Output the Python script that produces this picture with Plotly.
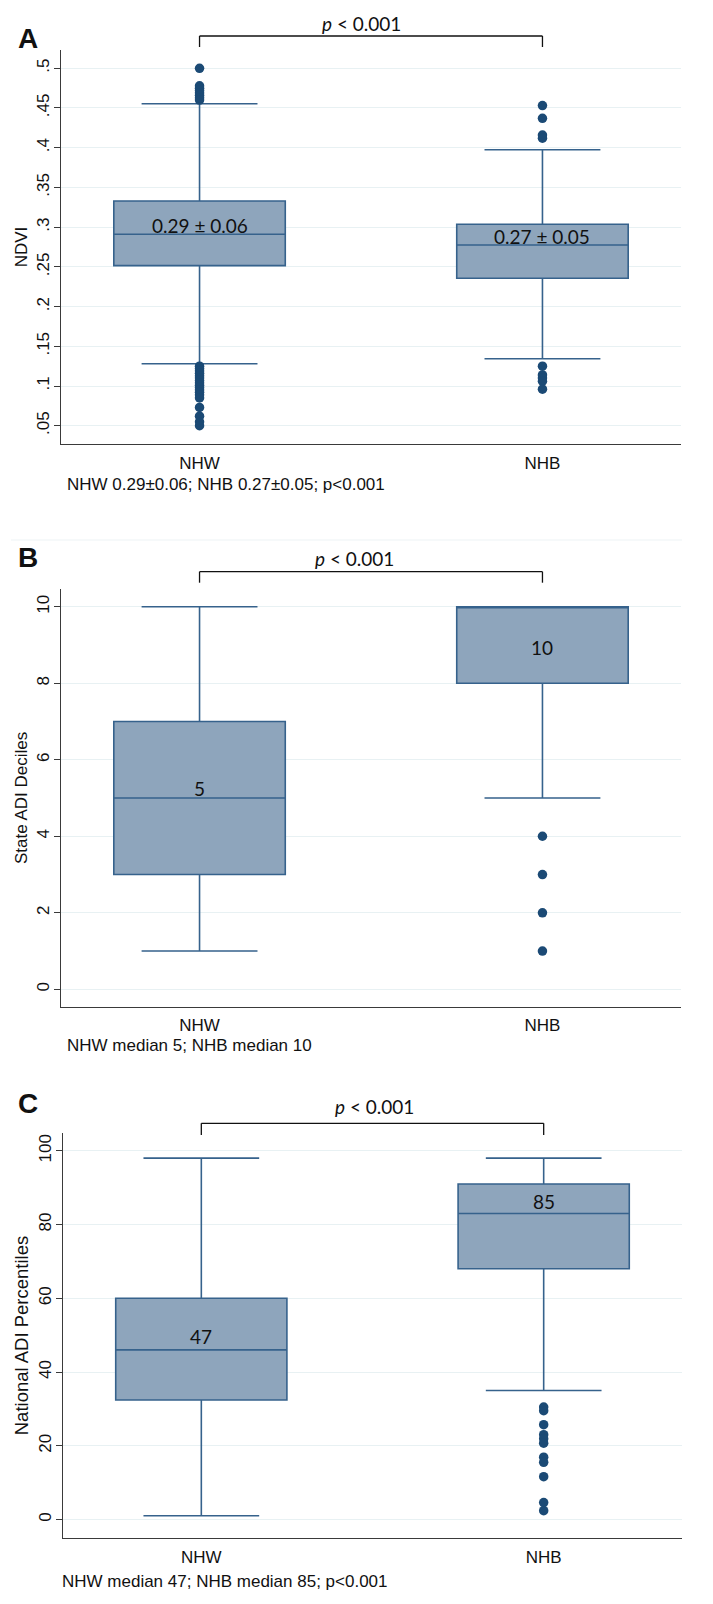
import plotly.graph_objects as go

# ---------------- data ----------------
groups = ["NHW", "NHB"]

# Panel A: NDVI
ndvi_q1 = [0.2515, 0.2356]
ndvi_median = [0.2910, 0.2775]
ndvi_q3 = [0.3329, 0.3036]
ndvi_lower = [0.1281, 0.1343]
ndvi_upper = [0.4554, 0.3975]
ndvi_out_nhw = [0.500, 0.478, 0.475, 0.472, 0.469, 0.466, 0.463, 0.460,
                0.125, 0.122, 0.119, 0.116, 0.113, 0.110, 0.107, 0.104,
                0.101, 0.098, 0.095, 0.092, 0.089, 0.085, 0.073, 0.062,
                0.055, 0.050]
ndvi_out_nhb = [0.453, 0.437, 0.416, 0.412, 0.125, 0.114, 0.110, 0.106, 0.096]
ndvi_labels = ["0.29 ± 0.06", "0.27 ± 0.05"]
ndvi_ticks = [0.05, 0.1, 0.15, 0.2, 0.25, 0.3, 0.35, 0.4, 0.45, 0.5]
ndvi_ticktext = [".05", ".1", ".15", ".2", ".25", ".3", ".35", ".4", ".45", ".5"]
ndvi_note = "NHW 0.29±0.06; NHB 0.27±0.05; p<0.001"

# Panel B: State ADI deciles
state_q1 = [3, 8]
state_median = [5, 10]
state_q3 = [7, 10]
state_lower = [1, 5]
state_upper = [10, 10]
state_out_nhw = []
state_out_nhb = [4, 3, 2, 1]
state_labels = ["5", "10"]
state_ticks = [0, 2, 4, 6, 8, 10]
state_note = "NHW median 5; NHB median 10"

# Panel C: National ADI percentiles
nat_q1 = [32.4, 68]
nat_median = [46, 83]
nat_q3 = [60, 91]
nat_lower = [1, 35]
nat_upper = [98, 98]
nat_out_nhw = []
nat_out_nhb = [30.5, 29.5, 25.7, 23, 21.9, 20.7, 16.9, 15.5, 11.6, 4.6, 2.4]
nat_labels = ["47", "85"]
nat_ticks = [0, 20, 40, 60, 80, 100]
nat_note = "NHW median 47; NHB median 85; p<0.001"

p_text = "<i>p</i> < 0.001"
panel_letters = ["A", "B", "C"]
y_titles = ["NDVI", "State ADI Deciles", "National ADI Percentiles"]

# ---------------- styling ----------------
W, H = 713, 1604
FILL = "#8EA5BC"
LINE = "#36628C"
DOT = "#1B4A75"
GRID = "#E8F1F3"
AXIS = "#3a3a3a"
SANS = "Liberation Sans, Arial, sans-serif"
CAL = "Lato, Open Sans, sans-serif"


def fx(px):
    return px / W


def fy(py):
    return 1 - py / H


panels = [
    dict(q1=ndvi_q1, med=ndvi_median, q3=ndvi_q3, lo=ndvi_lower, hi=ndvi_upper,
         out=[ndvi_out_nhw, ndvi_out_nhb], labels=ndvi_labels,
         tickvals=ndvi_ticks, ticktext=ndvi_ticktext, note=ndvi_note,
         yrange=[0.027, 0.523], ydom=(50, 444), xdom=(61, 681),
         label_shift=[9, 9], bracket=(36, 47), ptext=(361, 24),
         letter=(28, 38), notey=485, notex=65, tsize=17),
    dict(q1=state_q1, med=state_median, q3=state_q3, lo=state_lower, hi=state_upper,
         out=[state_out_nhw, state_out_nhb], labels=state_labels,
         tickvals=state_ticks, ticktext=[str(v) for v in state_ticks], note=state_note,
         yrange=[-0.455, 10.463], ydom=(589, 1006.7), xdom=(61, 681),
         label_shift=[9.5, -41], bracket=(571.7, 582.7), ptext=(354, 558),
         letter=(28, 557.5), notey=1045, notex=65, tsize=17),
    dict(q1=nat_q1, med=nat_median, q3=nat_q3, lo=nat_lower, hi=nat_upper,
         out=[nat_out_nhw, nat_out_nhb], labels=nat_labels,
         tickvals=nat_ticks, ticktext=[str(v) for v in nat_ticks], note=nat_note,
         yrange=[-5.1, 104.9], ydom=(1132.7, 1538.3), xdom=(63, 682),
         label_shift=[13.5, 11.5], bracket=(1123.3, 1135), ptext=(375, 1106.5),
         letter=(27.5, 1103.5), notey=1581.7, notex=60, tsize=18.5),
]

fig = go.Figure()
annotations = []
shapes = []
XR = [-0.404, 1.404]

for i, p in enumerate(panels):
    n = "" if i == 0 else str(i + 1)
    xa, ya = "x" + n, "y" + n
    fig.add_trace(go.Box(
        x=groups, q1=p["q1"], median=p["med"], q3=p["q3"],
        lowerfence=p["lo"], upperfence=p["hi"],
        xaxis=xa, yaxis=ya, boxpoints=False, width=0.5, whiskerwidth=0.676,
        fillcolor=FILL, line=dict(color=LINE, width=1.6),
        showlegend=False, hoverinfo="skip"))
    ox, oy = [], []
    for g, vals in zip(groups, p["out"]):
        ox += [g] * len(vals)
        oy += vals
    fig.add_trace(go.Scatter(
        x=ox, y=oy, mode="markers", xaxis=xa, yaxis=ya,
        marker=dict(color=DOT, size=9.5, line=dict(width=0)),
        showlegend=False, hoverinfo="skip"))

    layout_x = dict(
        domain=[fx(p["xdom"][0]), fx(p["xdom"][1])], range=XR,
        type="category", categoryorder="array", categoryarray=groups,
        showline=True, linecolor=AXIS, linewidth=1.3, showgrid=False,
        ticks="outside", ticklen=3, tickcolor="rgba(0,0,0,0)",
        tickfont=dict(family=SANS, size=17, color="#111"),
        anchor=ya, fixedrange=True, zeroline=False)
    layout_y = dict(
        domain=[fy(p["ydom"][1]), fy(p["ydom"][0])], range=p["yrange"],
        tickvals=p["tickvals"], ticktext=p["ticktext"], tickangle=-90,
        showline=True, linecolor=AXIS, linewidth=1.3,
        showgrid=True, gridcolor=GRID, gridwidth=1.3,
        ticks="outside", ticklen=6, tickcolor=AXIS, tickwidth=1.2,
        ticklabelstandoff=-2,
        tickfont=dict(family=SANS, size=17, color="#111"),
        title=dict(text=y_titles[i],
                   font=dict(family=SANS, size=p["tsize"], color="#111"),
                   standoff=2),
        anchor=xa, fixedrange=True, zeroline=False)
    fig.layout["xaxis" + n] = layout_x
    fig.layout["yaxis" + n] = layout_y

    # median labels
    for g, m, lab, sh in zip(groups, p["med"], p["labels"], p["label_shift"]):
        annotations.append(dict(
            x=g, y=m, xref=xa, yref=ya, text=lab, showarrow=False,
            yanchor="middle", yshift=sh,
            font=dict(family=CAL, size=19, color="#111")))

    # significance bracket
    top, bot = p["bracket"]
    for g in groups:
        shapes.append(dict(type="line", xref=xa, yref="paper",
                           x0=g, x1=g, y0=fy(top), y1=fy(bot),
                           line=dict(color="#111", width=1.3)))
    shapes.append(dict(type="line", xref=xa, yref="paper",
                       x0=groups[0], x1=groups[1], y0=fy(top), y1=fy(top),
                       line=dict(color="#111", width=1.3)))
    annotations.append(dict(
        x=fx(p["ptext"][0]), y=fy(p["ptext"][1]), xref="paper", yref="paper",
        text=p_text, showarrow=False, xanchor="center", yanchor="middle",
        font=dict(family=CAL, size=19, color="#111")))

    # panel letter
    annotations.append(dict(
        x=fx(p["letter"][0]), y=fy(p["letter"][1]), xref="paper", yref="paper",
        text="<b>" + panel_letters[i] + "</b>", showarrow=False,
        xanchor="center", yanchor="middle",
        font=dict(family=SANS, size=28, color="#111")))

    # note
    annotations.append(dict(
        x=fx(p["notex"]), y=fy(p["notey"]), xref="paper", yref="paper",
        text=p["note"], showarrow=False, xanchor="left", yanchor="middle",
        font=dict(family=SANS, size=17, color="#111")))

# faint separator between panels A and B
shapes.append(dict(type="line", xref="paper", yref="paper",
                   x0=fx(11), x1=fx(682), y0=fy(540), y1=fy(540),
                   line=dict(color="#EEF3F5", width=1.2)))

fig.update_layout(
    width=W, height=H, margin=dict(l=0, r=0, t=0, b=0),
    paper_bgcolor="white", plot_bgcolor="white",
    annotations=annotations, shapes=shapes, showlegend=False,
)

fig.write_html("out.html", config={"displayModeBar": False},
               post_script="document.body.style.margin='0';"
                           "document.body.style.overflow='hidden';")
